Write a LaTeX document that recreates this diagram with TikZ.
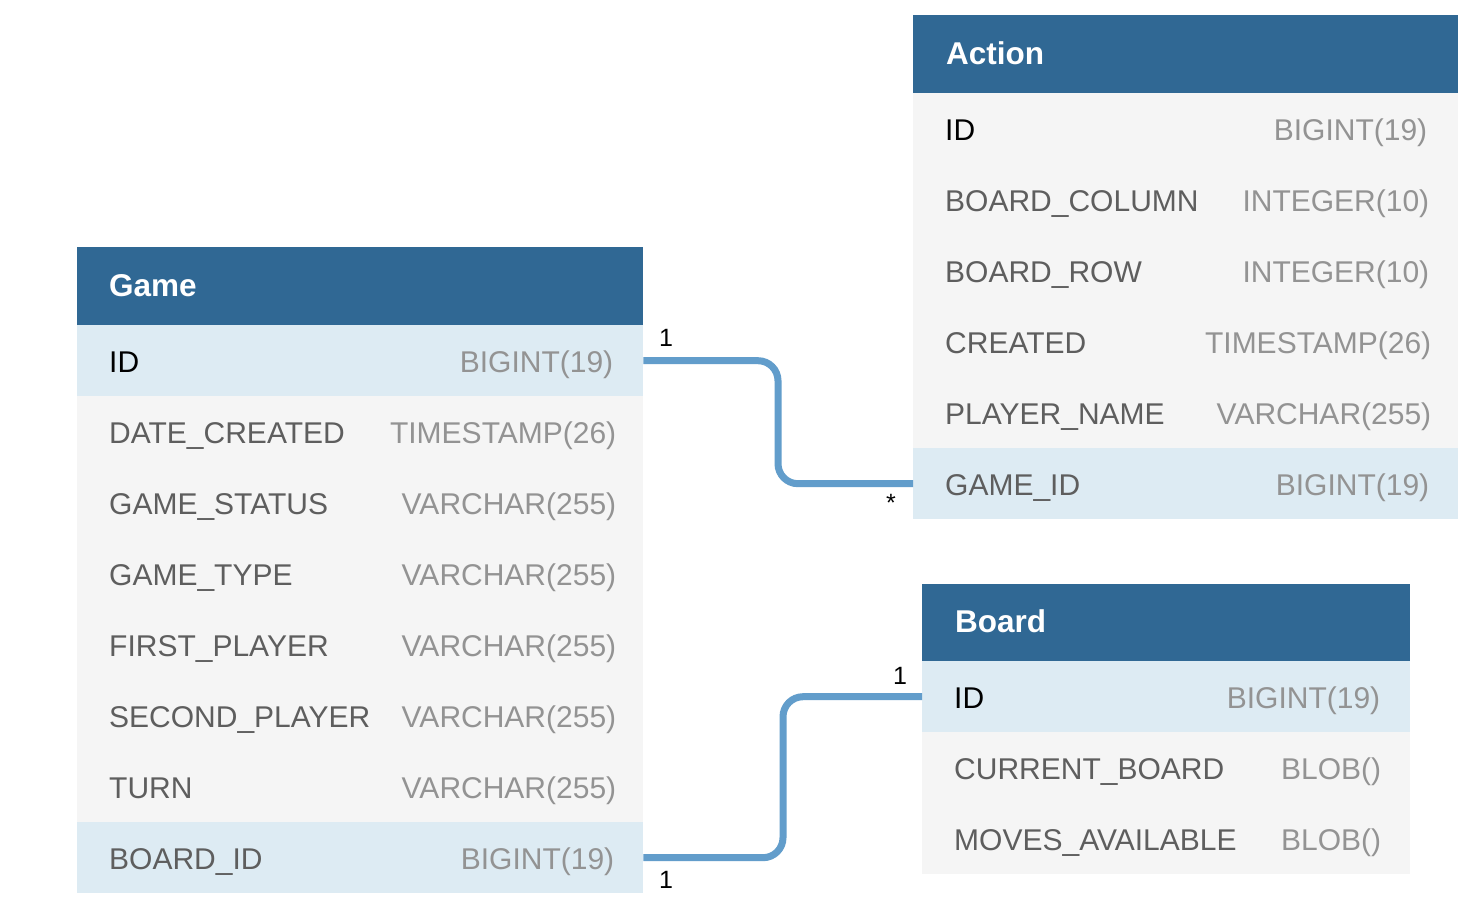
\documentclass[tikz,border=0pt]{standalone}
\usepackage{fontspec}
\setmainfont{Liberation Sans}
\definecolor{hdr}{HTML}{306894}
\definecolor{hl}{HTML}{DDEBF3}
\definecolor{plain}{HTML}{F5F5F5}
\definecolor{fld}{HTML}{5E5E5E}
\definecolor{typ}{HTML}{939393}
\definecolor{link}{HTML}{629DCB}
\tikzset{
  hdrbox/.style={fill=hdr, draw=none, anchor=north west, inner sep=0pt, minimum height=78pt},
  rowbox/.style={draw=none, anchor=north west, inner sep=0pt, minimum height=71pt},
  hdrtext/.style={text=white, font=\fontsize{31.5}{36}\selectfont\bfseries, anchor=base west, inner sep=0pt},
  fldtext/.style={text=fld, font=\fontsize{30}{34}\selectfont, anchor=base west, inner sep=0pt},
  keytext/.style={text=black, font=\fontsize{30}{34}\selectfont, anchor=base west, inner sep=0pt},
  typtext/.style={text=typ, font=\fontsize{30}{34}\selectfont, anchor=base east, inner sep=0pt},
  card/.style={text=black, font=\fontsize{25}{28}\selectfont, inner sep=0pt},
  linkline/.style={draw=link, line width=7pt, rounded corners=20pt}
}
% \erow{name}{x}{y}{width}{fill}{field style}{field}{type}{right pad}
\newcommand{\erow}[9]{%
  \node[rowbox, fill=#5, minimum width=#4pt] (#1) at (#2,#3) {};
  \node[#6] (#1f) at ([xshift=32pt,yshift=-11.5pt]#1.west) {#7};
  \node[typtext] (#1t) at ([xshift=-#9pt,yshift=-11.5pt]#1.east) {#8};
}
\begin{document}
\begin{tikzpicture}[x=1pt,y=-1pt]
\useasboundingbox (0,0) rectangle (1472,910);
\fill[white] (0,0) rectangle (1472,910);
% Game table
\node[hdrbox, minimum width=566pt] (game) at (77,247) {};
\node[hdrtext] (gamet) at ([xshift=32pt,yshift=-10pt]game.west) {Game};
\erow{gid}{77}{325}{566}{hl}{keytext}{ID}{BIGINT(19)}{30}
\erow{gdate}{77}{396}{566}{plain}{fldtext}{DATE\_CREATED}{TIMESTAMP(26)}{27}
\erow{gstatus}{77}{467}{566}{plain}{fldtext}{GAME\_STATUS}{VARCHAR(255)}{27}
\erow{gtype}{77}{538}{566}{plain}{fldtext}{GAME\_TYPE}{VARCHAR(255)}{27}
\erow{gfirst}{77}{609}{566}{plain}{fldtext}{FIRST\_PLAYER}{VARCHAR(255)}{27}
\erow{gsecond}{77}{680}{566}{plain}{fldtext}{SECOND\_PLAYER}{VARCHAR(255)}{27}
\erow{gturn}{77}{751}{566}{plain}{fldtext}{TURN}{VARCHAR(255)}{27}
\erow{gboard}{77}{822}{566}{hl}{fldtext}{BOARD\_ID}{BIGINT(19)}{29}
% Action table
\node[hdrbox, minimum width=545pt] (action) at (913,15) {};
\node[hdrtext] (actiont) at ([xshift=33pt,yshift=-10pt]action.west) {Action};
\erow{aid}{913}{93}{545}{plain}{keytext}{ID}{BIGINT(19)}{31}
\erow{acol}{913}{164}{545}{plain}{fldtext}{BOARD\_COLUMN}{INTEGER(10)}{29}
\erow{arow}{913}{235}{545}{plain}{fldtext}{BOARD\_ROW}{INTEGER(10)}{29}
\erow{acreated}{913}{306}{545}{plain}{fldtext}{CREATED}{TIMESTAMP(26)}{27}
\erow{aplayer}{913}{377}{545}{plain}{fldtext}{PLAYER\_NAME}{VARCHAR(255)}{27}
\erow{agame}{913}{448}{545}{hl}{fldtext}{GAME\_ID}{BIGINT(19)}{29}
% Board table
\node[hdrbox, minimum width=488pt, minimum height=77pt] (board) at (922,584) {};
\node[hdrtext] (boardt) at ([xshift=33pt,yshift=-10pt]board.west) {Board};
\erow{bid}{922}{661}{488}{hl}{keytext}{ID}{BIGINT(19)}{30}
\erow{bcur}{922}{732}{488}{plain}{fldtext}{CURRENT\_BOARD}{BLOB()}{29}
\erow{bmoves}{922}{803}{488}{plain}{fldtext}{MOVES\_AVAILABLE}{BLOB()}{29}
% connectors
\coordinate (c1) at (778,0);
\coordinate (c2) at (783,0);
\draw[linkline] (gid.east) -- (gid.east -| c1) -- (agame.west -| c1) -- (agame.west);
\draw[linkline] (gboard.east) -- (gboard.east -| c2) -- (bid.west -| c2) -- (bid.west);
% cardinalities
\node[card] (l1) at (666,338) {1};
\node[card] (l2) at (891,503) {*};
\node[card] (l3) at (900,676) {1};
\node[card] (l4) at (666,880) {1};
\end{tikzpicture}
\end{document}
